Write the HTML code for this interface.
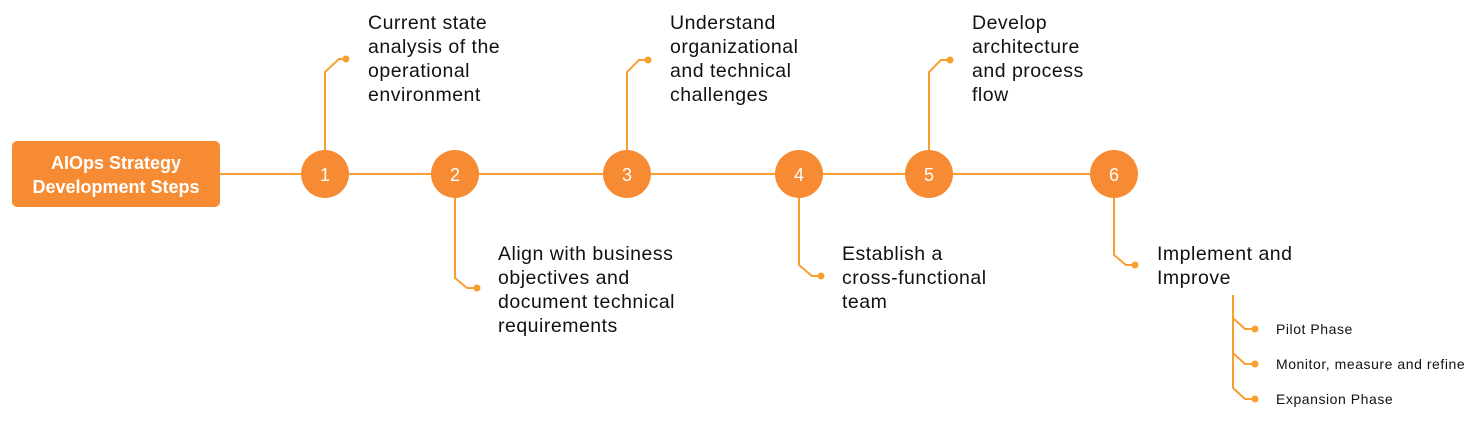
<!DOCTYPE html>
<html><head><meta charset="utf-8"><style>
html,body{margin:0;padding:0;background:#fff;width:1482px;height:426px;overflow:hidden}
svg text{font-family:"Liberation Sans",sans-serif}
</style></head><body>
<svg width="1482" height="426" viewBox="0 0 1482 426" xmlns="http://www.w3.org/2000/svg">
<g stroke="#F7A030" stroke-width="2" fill="none">
<line x1="220" y1="174" x2="1114" y2="174"/>
<polyline points="325,150 325,72 339,59 346,59"/>
<polyline points="455,198 455,278 467,288 477,288"/>
<polyline points="627,150 627,72 639,60 648,60"/>
<polyline points="799,198 799,265 812,276 821,276"/>
<polyline points="929,150 929,72 941,60 950,60"/>
<polyline points="1114,198 1114,255 1126,265 1135,265"/>
<line x1="1233" y1="295" x2="1233" y2="388"/>
<polyline points="1233,318 1245,329 1255,329"/>
<polyline points="1233,353 1245,364 1255,364"/>
<polyline points="1233,388 1245,399 1255,399"/>
</g>
<g fill="#F7A030">
<circle cx="346" cy="59" r="3.5"/><circle cx="477" cy="288" r="3.5"/><circle cx="648" cy="60" r="3.5"/>
<circle cx="821" cy="276" r="3.5"/><circle cx="950" cy="60" r="3.5"/><circle cx="1135" cy="265" r="3.5"/>
<circle cx="1255" cy="329" r="3.5"/><circle cx="1255" cy="364" r="3.5"/><circle cx="1255" cy="399" r="3.5"/>
</g>
<rect x="12" y="141" width="208" height="66" rx="5" fill="#F68B33"/>
<text x="116" y="169" text-anchor="middle" fill="#fff" font-size="18" font-weight="bold">AIOps Strategy</text>
<text x="116" y="193" text-anchor="middle" fill="#fff" font-size="18" font-weight="bold">Development Steps</text>
<g fill="#F68B33">
<circle cx="325" cy="174" r="24"/><circle cx="455" cy="174" r="24"/><circle cx="627" cy="174" r="24"/>
<circle cx="799" cy="174" r="24"/><circle cx="929" cy="174" r="24"/><circle cx="1114" cy="174" r="24"/>
</g>
<g fill="#fff" font-size="18" text-anchor="middle">
<text x="325" y="181">1</text><text x="455" y="181">2</text><text x="627" y="181">3</text>
<text x="799" y="181">4</text><text x="929" y="181">5</text><text x="1114" y="181">6</text>
</g>
<g fill="#111" font-size="19.5" letter-spacing="0.5">
<text x="368" y="29">Current state</text><text x="368" y="53">analysis of the</text><text x="368" y="77">operational</text><text x="368" y="101">environment</text>
<text x="498" y="260">Align with business</text><text x="498" y="284">objectives and</text><text x="498" y="308">document technical</text><text x="498" y="332">requirements</text>
<text x="670" y="29">Understand</text><text x="670" y="53">organizational</text><text x="670" y="77">and technical</text><text x="670" y="101">challenges</text>
<text x="842" y="260">Establish a</text><text x="842" y="284">cross-functional</text><text x="842" y="308">team</text>
<text x="972" y="29">Develop</text><text x="972" y="53">architecture</text><text x="972" y="77">and process</text><text x="972" y="101">flow</text>
<text x="1157" y="260">Implement and</text><text x="1157" y="284">Improve</text>
</g>
<g fill="#111" font-size="14" letter-spacing="0.55">
<text x="1276" y="334">Pilot Phase</text>
<text x="1276" y="369">Monitor, measure and refine</text>
<text x="1276" y="404">Expansion Phase</text>
</g>
</svg>
</body></html>
